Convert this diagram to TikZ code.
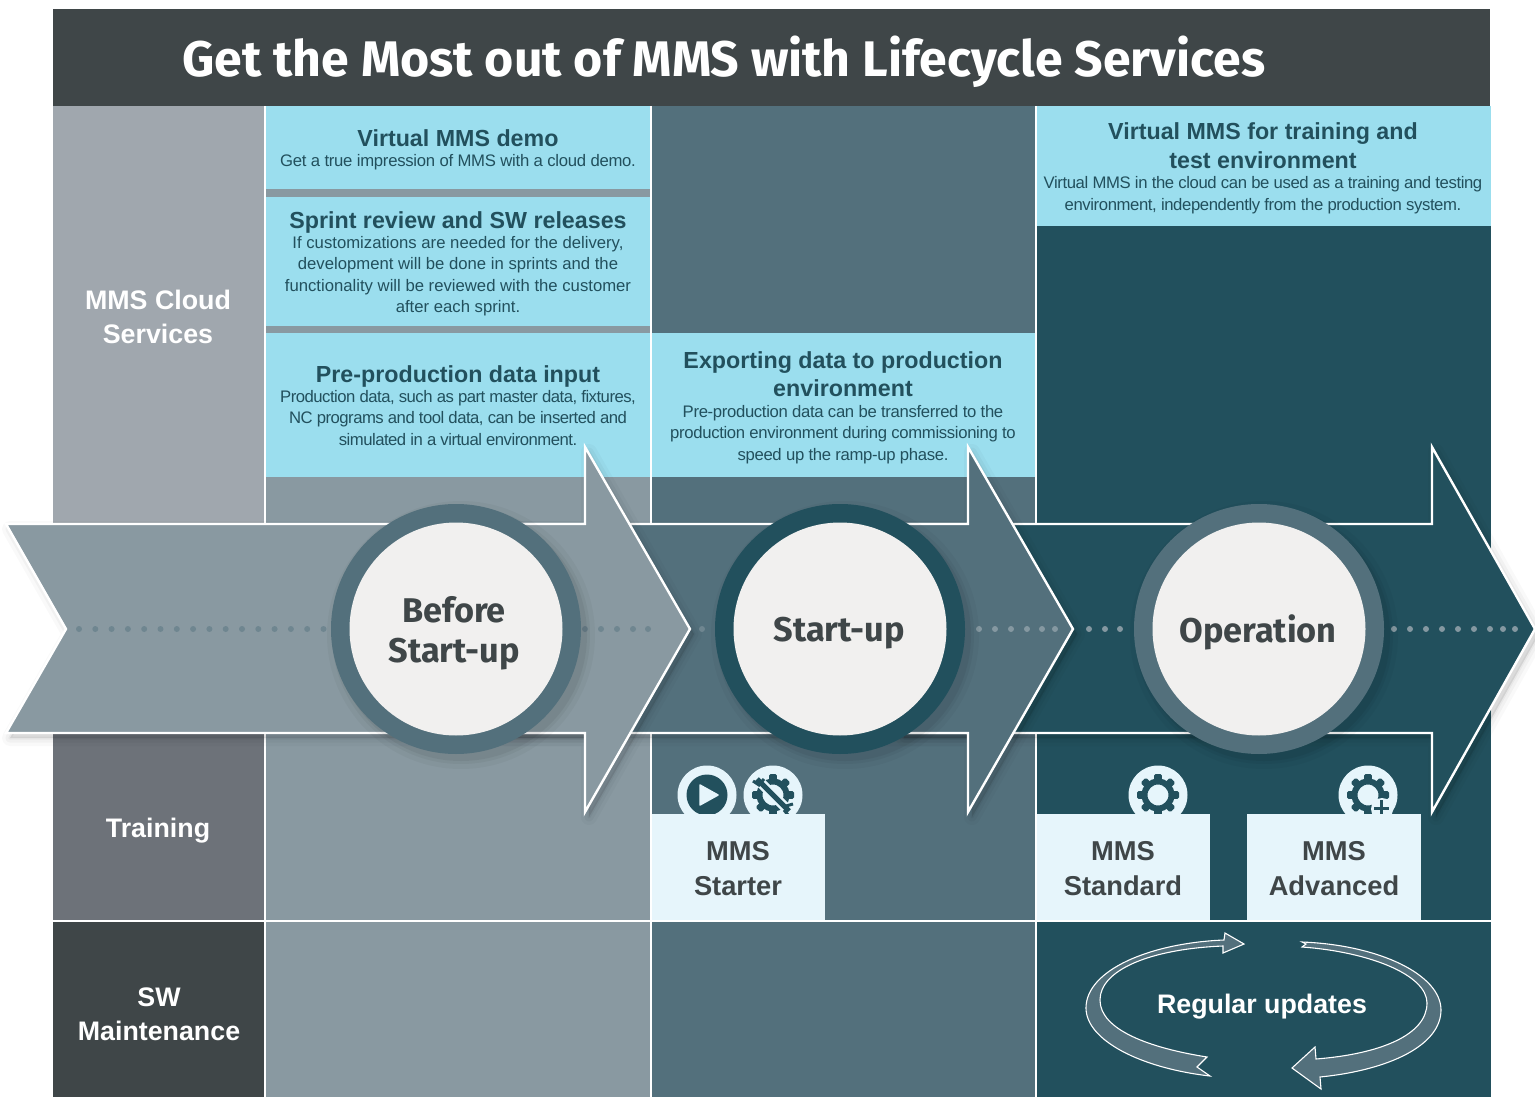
\documentclass[tikz,border=0pt]{standalone}
\usepackage{fontspec}
\setmainfont{Liberation Sans}
\newfontfamily\titlefont{Fira Sans}
\usetikzlibrary{calc}
\definecolor{cdark}{HTML}{3F4648}
\definecolor{cA}{HTML}{8999A1}
\definecolor{cB}{HTML}{53707C}
\definecolor{cC}{HTML}{22505D}
\definecolor{cboxb}{HTML}{9BDEEE}
\definecolor{cboxl}{HTML}{E6F5FB}
\definecolor{ccircle}{HTML}{F1F0EF}
\definecolor{cdot}{HTML}{6F8690}
\definecolor{ctext}{HTML}{3F4648}
\definecolor{cside}{HTML}{A0A7AE}
\definecolor{ctrain}{HTML}{6D7279}
\newcommand{\tightbody}[1]{\fontsize{16.7}{21.5}\selectfont\addfontfeature{LetterSpace=#1}}
\tikzset{
  softshadow/.style={
    preaction={draw=black,fill=black,opacity=.025,line width=16pt,line join=round,transform canvas={xshift=4pt,yshift=-5pt}},
    preaction={draw=black,fill=black,opacity=.03,line width=9pt,line join=round,transform canvas={xshift=4pt,yshift=-5pt}},
    preaction={draw=black,fill=black,opacity=.04,line width=3pt,line join=round,transform canvas={xshift=4pt,yshift=-5pt}}},
  band/.style={draw=white,line width=2.4pt,line join=miter,softshadow},
  headtext/.style={text=cC,font=\bfseries\fontsize{23.25}{28.5}\selectfont,align=center,inner sep=0pt},
  bodytext/.style={text=cC,font=\tightbody{#1},align=center,inner sep=0pt},
  bodytext/.default=0,
  sidetext/.style={text=white,font=\bfseries\fontsize{26.8}{34}\selectfont,align=center,inner sep=0pt},
  levtext/.style={text=ctext,font=\bfseries\fontsize{27.3}{35}\selectfont,align=center,inner sep=0pt},
  phasetext/.style={text=ctext,font=\titlefont\bfseries\fontsize{34.3}{40}\selectfont,align=center,inner sep=0pt},
  loopar/.style={fill=cB,draw=white,line width=1.1pt,line join=miter},
}
\newcommand{\phasering}[3]{% x, y, ring colour
  \fill[black,opacity=.03] (#1+5,#2+6) circle[radius=134pt];
  \fill[black,opacity=.04] (#1+5,#2+6) circle[radius=129pt];
  \fill[black,opacity=.05] (#1+5,#2+6) circle[radius=126pt];
  \fill[#3] (#1,#2) circle[radius=125pt];
  \fill[ccircle] (#1,#2) circle[radius=106.5pt];
}
\newcommand{\gearicon}[2]{%
  \begin{scope}[shift={(#1,#2)}]
    \foreach \a in {0,45,...,315}{\fill[cC,rotate=\a,rounded corners=1.5pt] (-3.8,-21) rectangle (3.8,-13);}
    \draw[cC,line width=6pt] (0,0) circle[radius=13.5pt];
  \end{scope}}
\begin{document}
\begin{tikzpicture}[x=1pt,y=-1pt]
\useasboundingbox (0,0) rectangle (1535,1097);
% title
\fill[cdark] (53,9) rectangle (1490,106);
\node[text=white,font=\titlefont\bfseries\fontsize{50}{56}\selectfont,inner sep=0pt] (title) at (724,62) {Get the Most out of MMS with Lifecycle Services};
% left column
\fill[cside] (53,106) rectangle (264,524);
\fill[ctrain] (53,733) rectangle (264,920);
\fill[cdark] (53,922) rectangle (264,1097);
% service columns
\fill[cA] (266,106) rectangle (650,920);
\fill[cB] (652,106) rectangle (1035,920);
\fill[cC] (1037,106) rectangle (1491,920);
\fill[cA] (266,922) rectangle (650,1097);
\fill[cB] (652,922) rectangle (1035,1097);
\fill[cC] (1037,922) rectangle (1491,1097);
% light boxes
\fill[cboxb] (266,106) rectangle (650,189);
\fill[cboxb] (266,197) rectangle (650,326);
\fill[cboxb] (266,333) rectangle (650,477);
\fill[cboxb] (652,333) rectangle (1035,477);
\fill[cboxb] (1037,106) rectangle (1491,226);
% side labels
\node[sidetext] (cloud) at (158,317) {MMS Cloud\\Services};
\node[sidetext] (training) at (158,831) {Training};
\node[sidetext] (maint) at (159,1014) {SW\\Maintenance};
% cell text
\node[headtext] (h1) at (458,138) {Virtual MMS demo};
\node[bodytext=-1.6] (b1) at (458,162) {Get a true impression of MMS with a cloud demo.};
\node[headtext] (h2) at (458,222) {Sprint review and SW releases};
\node[bodytext] (b2) at (458,276) {If customizations are needed for the delivery,\\development will be done in sprints and the\\functionality will be reviewed with the customer\\after each sprint.};
\node[headtext] (h3) at (458,376) {Pre-production data input};
\node[bodytext=-3] (b3) at (458,418) {Production data, such as part master data, fixtures,\\NC programs and tool data, can be inserted and\\simulated in a virtual environment.};
\node[headtext] (h4) at (843,374) {Exporting data to production\\environment};
\node[bodytext=-2] (b4) at (843,434.5) {Pre-production data can be transferred to the\\production environment during commissioning to\\speed up the ramp-up phase.};
\node[headtext] (h5) at (1263,145.5) {Virtual MMS for training and\\test environment};
\node[bodytext=-2.4] (b5) at (1263,195) {Virtual MMS in the cloud can be used as a training and testing\\environment, independently from the production system.};
% arrows
\path[band,fill=cC] (900,524) -- (1432,524) -- (1432,447) -- (1535,629) -- (1432,812) -- (1432,733) -- (900,733) -- cycle;
\path[band,fill=cB] (500,524) -- (968,524) -- (968,447) -- (1073,629) -- (968,812) -- (968,733) -- (500,733) -- cycle;
\path[band,fill=cA] (6,524) -- (585,524) -- (585,447) -- (690,629) -- (585,812) -- (585,733) -- (6,733) -- (66,629) -- cycle;
% dots
\foreach \x in {79,95.3,...,325}{\fill[cdot] (\x,629) circle[radius=3pt];}
\foreach \x in {585,601,617,633,648}{\fill[cdot] (\x,629) circle[radius=3pt];}
\fill[cdot] (702,629) circle[radius=3pt];
\foreach \x in {979,995,1011,1027,1042,1055}{\fill[cdot!85!white] (\x,629) circle[radius=3pt];}
\foreach \x in {1089,1105,1120}{\fill[cdot!85!white] (\x,629) circle[radius=3pt];}
\foreach \x in {1394,1410,1426,1442,1458,1474,1490,1503,1515}{\fill[cdot!85!white] (\x,629) circle[radius=3pt];}
% phase circles
\phasering{456}{629}{cB}
\phasering{840}{629}{cC}
\phasering{1259}{629}{cB}
\node[phasetext] (before) at (454,633) {Before\\Start-up};
\node[phasetext] (startup) at (839,633) {Start-up};
\node[phasetext] (operation) at (1258,632) {Operation};
% icons
\fill[cboxl] (707,795) circle[radius=29.5pt];
\fill[cboxl] (773,795) circle[radius=29.5pt];
\fill[cboxl] (1158,795) circle[radius=29.5pt];
\fill[cboxl] (1368,795) circle[radius=29.5pt];
\fill[cC] (707,795) circle[radius=20.5pt];
\fill[cboxl,draw=cboxl,line width=1.5pt,line join=round] (700,785) -- (718,795) -- (700,805) -- cycle;
\gearicon{773}{795}
\draw[cboxl,line width=10pt] (757,779) -- (789,811);
\draw[cC,line width=5pt] (757,779) -- (789,811);
\draw[cC,line width=3pt] (753,781) -- (759,785) -- (764,779);
\draw[cC,line width=3pt] (786,806) -- (793,804);
\draw[cC,line width=3pt] (784,810) -- (788,815);
\gearicon{1158}{795}
\gearicon{1368}{795}
\fill[cboxl] (1382,809) circle[radius=11pt];
\fill[cC] (1380,800) rectangle (1383,816);
\fill[cC] (1374,807) rectangle (1389,810);
% package boxes
\fill[cboxl] (652,814) rectangle (825,920);
\fill[cboxl] (1037,814) rectangle (1210,920);
\fill[cboxl] (1247,814) rectangle (1421,920);
\node[levtext] (starter) at (738,869) {MMS\\Starter};
\node[levtext] (standard) at (1123,869) {MMS\\Standard};
\node[levtext] (advanced) at (1334,869) {MMS\\Advanced};
% update loop
\path[loopar] (1244,944) -- (1225,933) -- (1224,940) .. controls (1150,943) and (1086,970) .. (1086,1008) .. controls (1086,1040) and (1140,1068) .. (1210,1076) -- (1197,1067) -- (1207,1057) .. controls (1150,1048) and (1100,1030) .. (1100,1000) .. controls (1100,970) and (1150,949) .. (1223,946) -- (1223,953) -- cycle;
\path[loopar] (1302,942) -- (1306,944) -- (1302,947) .. controls (1370,952) and (1427,975) .. (1427,1003) .. controls (1427,1035) and (1380,1054) .. (1316,1059) -- (1315,1047) -- (1292,1068) -- (1321,1089) -- (1320,1077) .. controls (1390,1070) and (1441,1045) .. (1441,1010) .. controls (1441,975) and (1380,945) .. (1302,942) -- cycle;
\node[sidetext] (updates) at (1262,1007) {Regular updates};
\end{tikzpicture}
\end{document}
